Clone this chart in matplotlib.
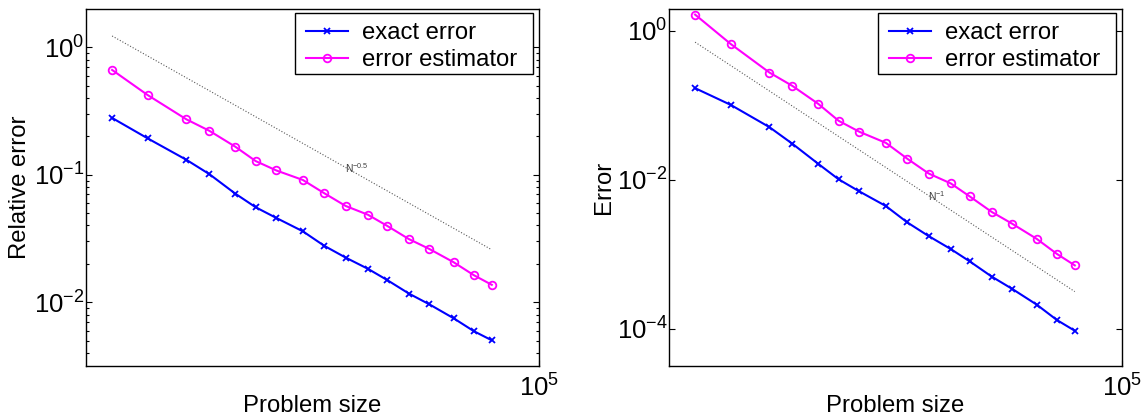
import matplotlib
matplotlib.use("Agg")
import matplotlib.pyplot as plt
from matplotlib.patches import Rectangle
from matplotlib.ticker import LogLocator, NullLocator, FixedLocator, LogFormatterSciNotation

plt.rcParams['font.family'] = ['Liberation Sans', 'DejaVu Sans']
plt.rcParams['mathtext.fontset'] = 'custom'
plt.rcParams['mathtext.rm'] = 'Liberation Sans'
plt.rcParams['mathtext.it'] = 'Liberation Sans:italic'
plt.rcParams['mathtext.bf'] = 'Liberation Sans:bold'

# ---- data ----
problem_size = [17, 35, 77, 123, 208, 315, 480, 822, 1271, 1963,
                3083, 4529, 7096, 10740, 17620, 26600, 38280]

rel_exact = [0.279, 0.193, 0.131, 0.101, 0.0711, 0.0556, 0.0458, 0.0360, 0.0277,
             0.0224, 0.0183, 0.0150, 0.0117, 0.00964, 0.00749, 0.00593, 0.00503]
rel_estimator = [0.664, 0.422, 0.272, 0.221, 0.166, 0.128, 0.108, 0.091, 0.0716,
                 0.0569, 0.0486, 0.0399, 0.0313, 0.0262, 0.0206, 0.0163, 0.0137]

err_exact = [0.169, 0.101, 0.0507, 0.0303, 0.0163, 0.0101, 0.00695, 0.00443, 0.00267,
             0.00175, 0.00117, 0.00080, 0.000499, 0.000342, 0.000211, 0.000131, 0.000094]
err_estimator = [1.64, 0.663, 0.274, 0.181, 0.104, 0.0616, 0.0439, 0.0312, 0.0191,
                 0.0121, 0.00889, 0.00595, 0.00368, 0.00256, 0.00161, 0.00101, 0.000708]

# reference slope lines (endpoints at first and last problem size)
ref_left_N = [17, 38280]
ref_left_val = [1.226, 0.0258]
ref_right_N = [17, 38280]
ref_right_val = [0.70, 3.15e-4]

ref_left_label = r'N$^{-0.5}$'
ref_right_label = r'N$^{-1}$'
ref_left_text_pos = (1930, 0.112)
ref_right_text_pos = (1930, 0.0060)

legend_labels = ['exact error', 'error estimator']
ylabels = ['Relative error', 'Error']
xlabel = 'Problem size'
xlim = (10, 1e5)
ylim_left = (10 ** -2.5, 10 ** 0.3)
ylim_right = (10 ** -4.5, 10 ** 0.29)
right_yticks = [1e-4, 1e-2, 1e0]

FS = 17.2
TFS = 18.5
W, H = 1148, 418
AX_W, AX_H = 453, 357
fig = plt.figure(figsize=(W / 100, H / 100), dpi=100)

ax_l = fig.add_axes([86 / W, (H - 366) / H, AX_W / W, AX_H / H])
ax_r = fig.add_axes([669 / W, (H - 366) / H, AX_W / W, AX_H / H])


def style_axes(ax, exact, estim, ref_N, ref_val, ref_lab, ref_pos, ylab, ylim, minor):
    ax.set_xscale('log')
    ax.set_yscale('log')
    ax.plot(ref_N, ref_val, linestyle=':', color='0.35', lw=0.8, zorder=1)
    l1, = ax.plot(problem_size, exact, color=(0, 0, 1), lw=1.5, marker='x',
                  ms=4, mew=1.3, zorder=3)
    l2, = ax.plot(problem_size, estim, color=(1, 0, 1), lw=1.5, marker='o',
                  ms=5.5, mew=1.3, mfc='none', zorder=3)
    ax.text(ref_pos[0], ref_pos[1], ref_lab, fontsize=7.5, color='0.25',
            ha='left', va='center')
    ax.set_xlim(*xlim)
    ax.set_ylim(*ylim)
    ax.xaxis.set_major_locator(FixedLocator([1e5]))
    ax.xaxis.set_minor_locator(NullLocator())
    ax.xaxis.set_major_formatter(LogFormatterSciNotation())
    if minor:
        ax.yaxis.set_major_locator(LogLocator(base=10, numticks=20))
        ax.yaxis.set_minor_locator(LogLocator(base=10, subs=range(2, 10), numticks=20))
    else:
        ax.yaxis.set_major_locator(FixedLocator(right_yticks))
        ax.yaxis.set_minor_locator(NullLocator())
    ax.yaxis.set_major_formatter(LogFormatterSciNotation())
    ax.tick_params(axis='both', which='both', direction='in', labelsize=TFS,
                   width=0.8, right=True, top=False)
    ax.tick_params(axis='y', which='major', length=4.5, pad=1)
    ax.tick_params(axis='y', which='minor', length=2.5)
    ax.tick_params(axis='x', which='major', length=4.5, pad=6)
    for s in ax.spines.values():
        s.set_linewidth(1.0)
    ax.set_ylabel(ylab, fontsize=FS)
    ax.set_xlabel(xlabel, fontsize=FS)
    ax.xaxis.set_label_coords(0.5, -0.08)
    # legend frame drawn as a plain rectangle, entries without their own frame
    box_x0, box_x1 = (294.6 - 86) / AX_W, (533 - 86) / AX_W
    box_y0, box_y1 = (366 - 74) / AX_H, (366 - 13.3) / AX_H
    ax.add_patch(Rectangle((box_x0, box_y0), box_x1 - box_x0, box_y1 - box_y0,
                           transform=ax.transAxes, facecolor='white',
                           edgecolor='black', lw=1.0, zorder=4))
    leg = ax.legend([l1, l2], legend_labels, loc='upper left',
                    bbox_to_anchor=((306 - 86) / AX_W, (366 - 22) / AX_H),
                    borderaxespad=0, borderpad=0, frameon=False,
                    fontsize=FS, numpoints=1, handlelength=1.75, handletextpad=0.6,
                    labelspacing=0.22)
    leg.set_zorder(5)
    return ax


style_axes(ax_l, rel_exact, rel_estimator, ref_left_N, ref_left_val, ref_left_label,
           ref_left_text_pos, ylabels[0], ylim_left, True)
style_axes(ax_r, err_exact, err_estimator, ref_right_N, ref_right_val, ref_right_label,
           ref_right_text_pos, ylabels[1], ylim_right, False)
ax_l.yaxis.set_label_coords((31 - 86) / AX_W, 0.5)
ax_r.yaxis.set_label_coords((615 - 669) / AX_W, 0.5)

fig.savefig('out.png', dpi=100)
